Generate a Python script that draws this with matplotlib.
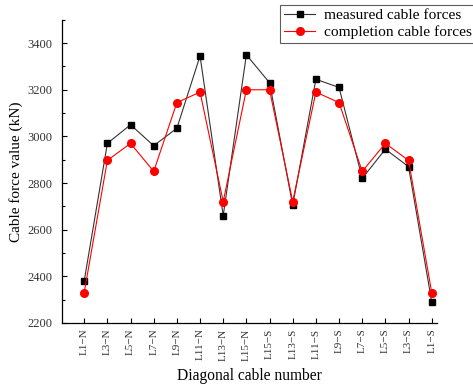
import matplotlib
matplotlib.use("Agg")
import matplotlib.pyplot as plt
from matplotlib.ticker import MultipleLocator

plt.rcParams['font.family'] = ['Liberation Serif', 'DejaVu Serif']
plt.rcParams['mathtext.fontset'] = 'stix'

cables = ["L1−N", "L3−N", "L5−N", "L7−N", "L9−N", "L11−N", "L13−N", "L15−N",
          "L15−S", "L13−S", "L11−S", "L9−S", "L7−S", "L5−S", "L3−S", "L1−S"]
measured = [2380, 2970, 3050, 2960, 3035, 3345, 2660, 3350,
            3230, 2705, 3245, 3210, 2820, 2945, 2870, 2290]
completion = [2330, 2897, 2970, 2850, 3145, 3190, 2720, 3200,
              3200, 2720, 3190, 3145, 2850, 2970, 2897, 2330]

fig = plt.figure(figsize=(4.73, 3.89), dpi=100)
ax = fig.add_axes([0.131, 0.170, 0.793, 0.779])

x = list(range(len(cables)))
ax.plot(x, measured, color="#333333", lw=0.8, marker="s", ms=4.8,
        mfc="black", mec="black", label="measured cable forces", zorder=3)
ax.plot(x, completion, color="red", lw=0.8, marker="o", ms=5.5,
        mfc="red", mec="red", label="completion cable forces", zorder=4)

ax.set_xlim(-0.96, 15.23)
ax.set_ylim(2200, 3500)
ax.yaxis.set_major_locator(MultipleLocator(200))
ax.yaxis.set_minor_locator(MultipleLocator(100))
ax.set_xticks(x)
ax.set_xticklabels(cables, rotation=90, fontsize=8, color="#333333")
ax.tick_params(axis="y", labelsize=9, labelcolor="#333333", pad=7)
ax.tick_params(which="both", direction="in", width=0.8)
ax.tick_params(which="major", length=3.5)
ax.tick_params(which="minor", length=2.2)
ax.tick_params(axis="x", pad=4)

for side in ("top", "right"):
    ax.spines[side].set_visible(False)
for side in ("left", "bottom"):
    ax.spines[side].set_linewidth(0.9)

ax.set_xlabel("Diagonal cable number", fontsize=11.2, labelpad=5)
ax.set_ylabel("Cable force value (kN)", fontsize=11, labelpad=3)

leg = fig.legend(loc="upper left", bbox_to_anchor=(0.593, 0.988),
                 fontsize=11.1, frameon=True, fancybox=False, edgecolor="#333333",
                 borderpad=0.25, handlelength=2.0, handletextpad=0.6,
                 labelspacing=0.2, borderaxespad=0)
leg.get_frame().set_linewidth(0.8)

fig.savefig("out.png", dpi=100)
